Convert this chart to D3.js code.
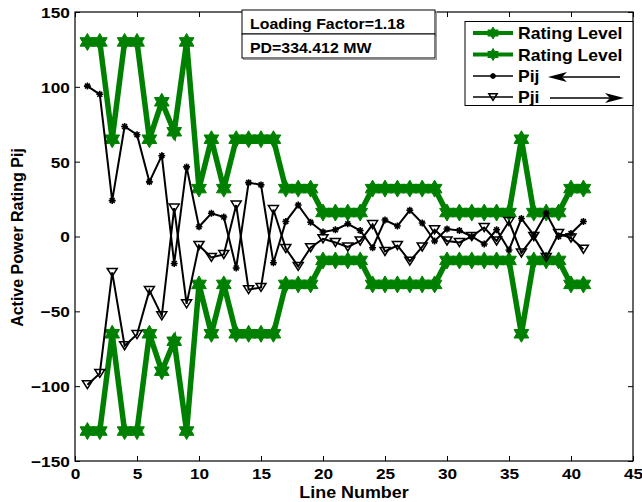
<!DOCTYPE html>
<html>
<head>
<meta charset="utf-8">
<script src="https://cdn.jsdelivr.net/npm/d3@7"></script>
<style>
  body { margin: 0; background: #fff; }
  text { font-family: "Liberation Sans", Arial, sans-serif; font-weight: bold; fill: #000; }
</style>
</head>
<body>
<div id="chart"></div>
<script>
// line numbers (IEEE 30-bus branches)
var lineNo = [1, 2, 3, 4, 5, 6, 7, 8, 9, 10, 11, 12, 13, 14, 15, 16, 17, 18, 19, 20,
  21, 22, 23, 24, 25, 26, 27, 28, 29, 30, 31, 32, 33, 34, 35, 36, 37, 38, 39, 40, 41];

// line rating levels (MW)
var rating = [130, 130, 65, 130, 130, 65, 90, 70, 130, 32, 65, 32, 65, 65, 65, 65, 32, 32, 32, 16,
  16, 16, 16, 32, 32, 32, 32, 32, 32, 16, 16, 16, 16, 16, 16, 65, 16, 16, 16, 32, 32];

// active power flows
var pij = [100.5, 95, 24, 73.5, 68, 36.5, 54, -18, 46.5, 6.5, 15.5, 13, -21, 36, 34.5, -17.5, 10, 21, 9.5, 3,
  4.5, 8.5, 4, -7.5, 11, 7, 17.5, 9, -3, 5, 4, 0, -5, 4.5, -9, 12, 1, 15.5, 0, 2, 10];
var pji = [-99, -91.5, -24, -73, -65.5, -36, -53, 19, -45, -6, -14, -12, 21, -35.5, -34, 18, -8, -20, -7.5, -1.5,
  -4, -7, -3, 8, -10, -6, -16.5, -7, 4.5, -3, -4, 0, 6, -3, 10, -11, 0, -14, 2, -1, -8.5];

var xTicks = [0, 5, 10, 15, 20, 25, 30, 35, 40, 45],
    yTicks = [-150, -100, -50, 0, 50, 100, 150];
var legendLabels = ["Rating Level", "Rating Level", "Pij", "Pji"];
var notes = ["Loading Factor=1.18", "PD=334.412 MW"];

var green = "#008000";

var W = 642, H = 502;
var margin = { top: 12, right: 9, bottom: 41, left: 75 },
    width = W - margin.left - margin.right,
    height = H - margin.top - margin.bottom;

var svg = d3.select("#chart")
  .append("svg")
  .attr("width", W)
  .attr("height", H)
  .style("background", "#fff");

var g = svg.append("g")
  .attr("transform", "translate(" + margin.left + "," + margin.top + ")");

var x = d3.scaleLinear().domain([0, 45]).range([0, width]);
var y = d3.scaleLinear().domain([-150, 150]).range([height, 0]);

// horizontal text, slightly stretched like the original figure
function htext(parent, tx, ty, str, size, sx, anchor) {
  return parent.append("text")
    .attr("transform", "translate(" + tx + "," + ty + ") scale(" + sx + ",1)")
    .attr("text-anchor", anchor || "start")
    .style("font-size", size + "px")
    .text(str);
}

// ---- axes ----
var xAxis = g.append("g")
  .attr("transform", "translate(0," + height + ")")
  .call(d3.axisBottom(x).tickValues(xTicks).tickSizeInner(-5).tickSizeOuter(0).tickPadding(7));
var xTop = g.append("g")
  .call(d3.axisTop(x).tickValues(xTicks).tickSizeInner(-5).tickSizeOuter(0).tickFormat(""));
var yAxis = g.append("g")
  .call(d3.axisLeft(y).tickValues(yTicks).tickSizeInner(-5).tickSizeOuter(0).tickPadding(4.5));
var yRight = g.append("g")
  .attr("transform", "translate(" + width + ",0)")
  .call(d3.axisRight(y).tickValues(yTicks).tickSizeInner(-5).tickSizeOuter(0).tickFormat(""));

[xAxis, xTop, yAxis, yRight].forEach(function(a) {
  a.select(".domain").remove();
  a.selectAll("line").attr("stroke", "#000").attr("stroke-width", 1);
  a.selectAll("text")
    .attr("fill", "#000")
    .style("font-size", "15px")
    .style("font-family", "'Liberation Sans', Arial, sans-serif")
    .style("font-weight", "bold");
});
xAxis.selectAll("text").attr("transform", "scale(1.15,1)");
yAxis.selectAll("text").attr("transform", "scale(1.15,1)").attr("dy", "0.36em");

g.append("rect")
  .attr("width", width)
  .attr("height", height)
  .attr("fill", "none")
  .attr("stroke", "#000")
  .attr("stroke-width", 1.2);

// axis labels
htext(g, width / 2, height + 37, "Line Number", 16, 1.12, "middle");
svg.append("text")
  .attr("text-anchor", "middle")
  .attr("transform", "translate(23," + (margin.top + y(0) + 1) + ")rotate(-90)")
  .style("font-size", "16px")
  .text("Active Power Rating Pij");

// ---- markers ----
var hexagram = {
  draw: function(ctx, size) {
    var R = Math.sqrt(size), r = R / Math.sqrt(3);
    for (var i = 0; i < 12; i++) {
      var a = -Math.PI / 2 + i * Math.PI / 6, rr = i % 2 ? r : R;
      if (i === 0) ctx.moveTo(rr * Math.cos(a), rr * Math.sin(a));
      else ctx.lineTo(rr * Math.cos(a), rr * Math.sin(a));
    }
    ctx.closePath();
  }
};
var asterisk = {
  draw: function(ctx, size) {
    var r = Math.sqrt(size);
    for (var i = 0; i < 4; i++) {
      var a = i * Math.PI / 4;
      ctx.moveTo(-r * Math.cos(a), -r * Math.sin(a));
      ctx.lineTo(r * Math.cos(a), r * Math.sin(a));
    }
  }
};
var triDown = {
  draw: function(ctx, size) {
    var r = Math.sqrt(size);
    ctx.moveTo(-r, -r * 0.8);
    ctx.lineTo(r, -r * 0.8);
    ctx.lineTo(0, r * 0.8);
    ctx.closePath();
  }
};

var series = [
  { vals: rating.map(function(v) { return v; }), color: green, lw: 5.5, sym: hexagram, size: 72, fill: green, sw: 1 },
  { vals: rating.map(function(v) { return -v; }), color: green, lw: 5.5, sym: hexagram, size: 72, fill: green, sw: 1 },
  { vals: pij, color: "#000", lw: 2, sym: asterisk, size: 12, fill: "none", sw: 1.6 },
  { vals: pji, color: "#000", lw: 2, sym: triDown, size: 25, fill: "none", sw: 1.5 }
];

var line = d3.line()
  .x(function(d) { return x(d[0]); })
  .y(function(d) { return y(d[1]); });

series.forEach(function(s) {
  var pts = lineNo.map(function(n, i) { return [n, s.vals[i]]; });
  g.append("path")
    .datum(pts)
    .attr("fill", "none")
    .attr("stroke", s.color)
    .attr("stroke-width", s.lw)
    .attr("stroke-linejoin", "miter")
    .attr("d", line);
  g.append("g")
    .selectAll("path")
    .data(pts)
    .enter()
    .append("path")
    .attr("transform", function(d) { return "translate(" + x(d[0]) + "," + y(d[1]) + ")"; })
    .attr("d", d3.symbol().type(s.sym).size(s.size))
    .attr("fill", s.fill)
    .attr("stroke", s.color)
    .attr("stroke-width", s.sw);
});

// ---- annotation boxes ----
var nb = { x: 242, y: 10, w: 193, h: 24 };
notes.forEach(function(t, i) {
  svg.append("rect")
    .attr("x", nb.x + 1.5).attr("y", nb.y + i * nb.h + 1.5)
    .attr("width", nb.w).attr("height", nb.h)
    .attr("fill", "none").attr("stroke", "#999").attr("stroke-width", 1);
  svg.append("rect")
    .attr("x", nb.x).attr("y", nb.y + i * nb.h)
    .attr("width", nb.w).attr("height", nb.h)
    .attr("fill", "#fff").attr("stroke", "#000").attr("stroke-width", 1);
  htext(svg, nb.x + 8, nb.y + i * nb.h + 18.5, t, 15, 1.06);
});

// ---- legend ----
var lg = svg.append("g");
lg.append("rect")
  .attr("x", 465).attr("y", 21.5)
  .attr("width", 168).attr("height", 84)
  .attr("fill", "#fff").attr("stroke", "#000").attr("stroke-width", 1);
var rowY = [33, 54.5, 76, 97];
series.forEach(function(s, i) {
  lg.append("line")
    .attr("x1", 473).attr("x2", 513)
    .attr("y1", rowY[i]).attr("y2", rowY[i])
    .attr("stroke", s.color)
    .attr("stroke-width", i < 2 ? 4 : 1.5);
  lg.append("path")
    .attr("transform", "translate(493," + rowY[i] + ")")
    .attr("d", d3.symbol().type(s.sym).size(i < 2 ? 36 : s.size * 0.7))
    .attr("fill", s.fill)
    .attr("stroke", s.color)
    .attr("stroke-width", s.sw);
  htext(lg, 518, rowY[i] + 6, legendLabels[i], 16, 1.1);
});

// arrows next to Pij / Pji
var ay1 = rowY[2] + 1, ay2 = rowY[3] + 1;
lg.append("line").attr("x1", 560).attr("x2", 620).attr("y1", ay1).attr("y2", ay1)
  .attr("stroke", "#000").attr("stroke-width", 1.3);
lg.append("path")
  .attr("d", "M548," + ay1 + "L567," + (ay1 - 5) + "L562," + ay1 + "L567," + (ay1 + 5) + "Z")
  .attr("fill", "#000");
lg.append("line").attr("x1", 550).attr("x2", 612).attr("y1", ay2).attr("y2", ay2)
  .attr("stroke", "#000").attr("stroke-width", 1.3);
lg.append("path")
  .attr("d", "M624," + ay2 + "L605," + (ay2 - 5) + "L610," + ay2 + "L605," + (ay2 + 5) + "Z")
  .attr("fill", "#000");
</script>
</body>
</html>
